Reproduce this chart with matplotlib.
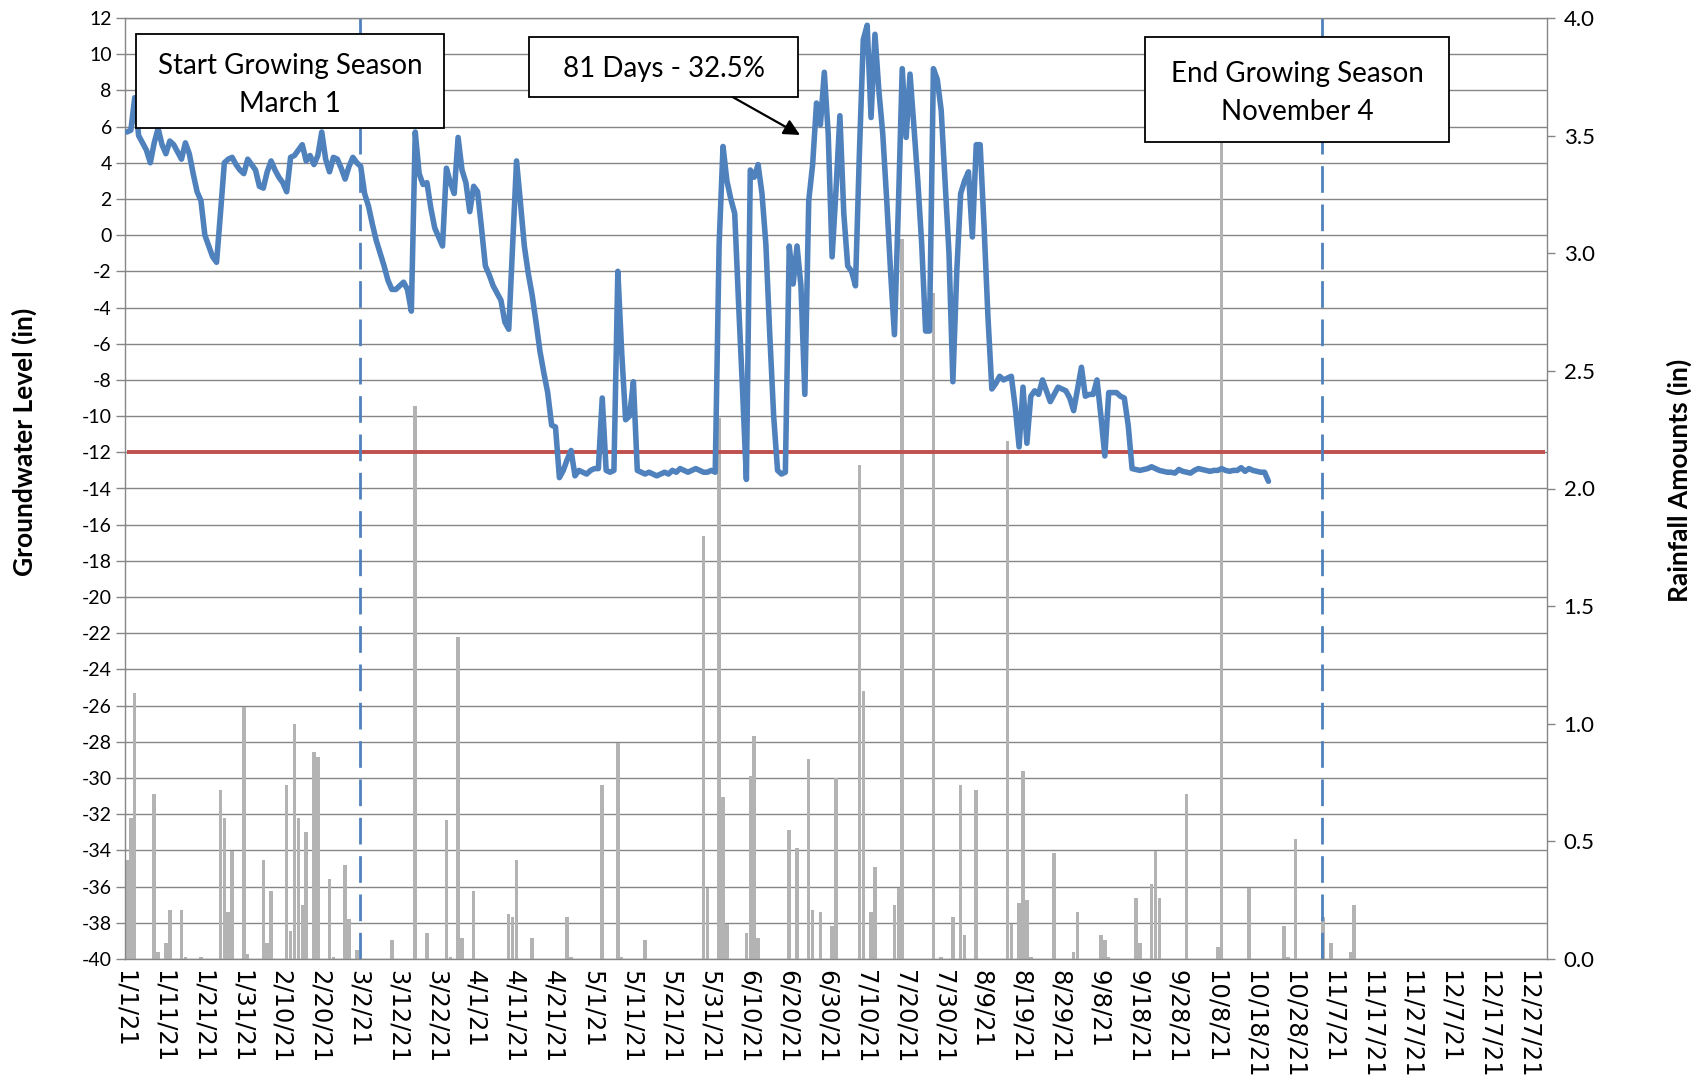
import numpy as np
import matplotlib
matplotlib.use("Agg")
import matplotlib.pyplot as plt
from matplotlib.transforms import blended_transform_factory
from matplotlib.patches import Rectangle
from matplotlib.ticker import FormatStrFormatter

plt.rcParams['font.family'] = ['Lato', 'DejaVu Sans']
plt.rcParams['axes.unicode_minus'] = False

# Daily groundwater level (in), one value per day starting 1/1/21
gw_level = [
    5.7, 5.8, 7.6, 5.5, 5.1, 4.7, 4.0, 5.1, 5.9, 5.0,
    4.5, 5.2, 5.0, 4.6, 4.2, 5.1, 4.5, 3.4, 2.4, 1.9,
    0.0, -0.6, -1.2, -1.5, 1.2, 4.0, 4.2, 4.3, 3.9, 3.6,
    3.4, 4.2, 3.9, 3.6, 2.7, 2.6, 3.5, 4.1, 3.6, 3.2,
    2.9, 2.4, 4.3, 4.4, 4.7, 5.0, 4.1, 4.4, 3.9, 4.4,
    5.7, 4.2, 3.5, 4.3, 4.2, 3.7, 3.1, 3.8, 4.3, 4.0,
    3.8, 2.3, 1.6, 0.6, -0.3, -1.0, -1.7, -2.5, -3.0, -3.0,
    -2.8, -2.6, -3.0, -4.2, 5.7, 3.4, 2.8, 2.9, 1.5, 0.4,
    -0.1, -0.6, 3.7, 2.9, 2.3, 5.4, 3.6, 2.9, 1.3, 2.7,
    2.4, 0.4, -1.7, -2.2, -2.8, -3.2, -3.6, -4.8, -5.2, -0.6,
    4.1, 1.8, -0.6, -2.1, -3.3, -4.8, -6.4, -7.6, -8.7, -10.5,
    -10.6, -13.4, -13.0, -12.4, -11.9, -13.3, -13.0, -13.1, -13.2, -13.0,
    -12.9, -12.9, -9.0, -13.0, -13.1, -13.0, -2.0, -6.5, -10.2, -10.0,
    -8.1, -13.0, -13.1, -13.2, -13.1, -13.2, -13.3, -13.2, -13.1, -13.2,
    -13.0, -13.1, -12.9, -13.0, -13.1, -13.0, -12.9, -13.0, -13.1, -13.1,
    -13.0, -13.1, -0.5, 4.9, 3.0, 2.0, 1.2, -3.8, -8.5, -13.5,
    3.6, 3.2, 3.9, 2.3, -0.5, -5.5, -10.0, -13.0, -13.2, -13.1,
    -0.6, -2.7, -0.6, -2.8, -8.8, 1.9, 3.9, 7.3, 6.1, 9.0,
    5.6, -1.2, 2.5, 6.6, 1.2, -1.7, -2.0, -2.8, 4.5, 10.8,
    11.6, 6.5, 11.1, 8.0, 5.6, 2.0, -2.0, -5.5, 1.5, 9.2,
    5.4, 8.9, 6.0, 3.0, -0.5, -5.3, -5.3, 9.2, 8.6, 6.9,
    3.0, -1.0, -8.1, -2.0, 2.3, 3.0, 3.5, -0.1, 5.0, 5.0,
    0.5, -4.5, -8.5, -8.2, -7.8, -8.0, -7.9, -7.8, -9.5, -11.7,
    -8.4, -11.5, -8.9, -8.6, -8.8, -8.0, -8.6, -9.2, -8.8, -8.4,
    -8.5, -8.6, -9.0, -9.7, -8.5, -7.3, -8.9, -8.8, -8.8, -8.0,
    -10.0, -12.2, -8.7, -8.7, -8.7, -8.9, -9.0, -10.5, -12.9, -12.95,
    -13.0, -12.95, -12.9, -12.8, -12.9, -13.0, -13.05, -13.1, -13.1, -13.15,
    -12.95, -13.05, -13.1, -13.15, -13.0, -12.9, -12.95, -13.0, -13.05, -13.0,
    -13.0, -12.9, -13.0, -13.05, -13.0, -13.0, -12.85, -13.05, -12.9, -13.0,
    -13.05, -13.1, -13.1, -13.6,
]

# Daily rainfall (in): day of year (0 = 1/1/21) and amount
rain_day = [
    0, 1, 2, 7, 8, 10, 11, 14, 15, 19,
    24, 25, 26, 27, 30, 31, 35, 36, 37, 41,
    42, 43, 44, 45, 46, 48, 49, 52, 53, 56,
    57, 59, 68, 74, 77, 82, 83, 85, 86, 89,
    98, 99, 100, 104, 113, 114, 122, 126, 127, 133,
    148, 149, 152, 153, 154, 159, 160, 161, 162, 170,
    172, 175, 176, 178, 181, 182, 188, 189, 191, 192,
    197, 198, 199, 207, 209, 212, 214, 215, 218, 226,
    227, 229, 230, 231, 232, 238, 243, 244, 250, 251,
    252, 259, 260, 263, 264, 265, 272, 280, 281, 288,
    297, 298, 300, 307, 309, 314, 315,
]
rain_in = [
    0.42, 0.60, 1.13, 0.70, 0.03, 0.07, 0.21, 0.21, 0.01, 0.01,
    0.72, 0.60, 0.20, 0.46, 1.07, 0.02, 0.42, 0.07, 0.29, 0.74,
    0.12, 1.00, 0.60, 0.23, 0.54, 0.88, 0.86, 0.34, 0.01, 0.40,
    0.17, 0.04, 0.08, 2.35, 0.11, 0.59, 0.01, 1.37, 0.09, 0.29,
    0.19, 0.18, 0.42, 0.09, 0.18, 0.01, 0.74, 0.92, 0.01, 0.08,
    1.80, 0.30, 2.30, 0.69, 0.15, 0.11, 0.78, 0.95, 0.09, 0.55,
    0.47, 0.85, 0.21, 0.20, 0.14, 0.77, 2.10, 1.14, 0.20, 0.39,
    0.23, 0.30, 3.06, 2.83, 0.01, 0.18, 0.74, 0.10, 0.72, 2.20,
    0.15, 0.24, 0.80, 0.25, 0.01, 0.45, 0.03, 0.20, 0.10, 0.08,
    0.01, 0.26, 0.07, 0.32, 0.46, 0.26, 0.70, 0.05, 3.47, 0.30,
    0.14, 0.01, 0.51, 0.18, 0.07, 0.03, 0.23,
]

x_tick_days = list(range(0, 361, 10))
x_tick_labels = [
    "1/1/21", "1/11/21", "1/21/21", "1/31/21", "2/10/21", "2/20/21",
    "3/2/21", "3/12/21", "3/22/21", "4/1/21", "4/11/21", "4/21/21",
    "5/1/21", "5/11/21", "5/21/21", "5/31/21", "6/10/21", "6/20/21",
    "6/30/21", "7/10/21", "7/20/21", "7/30/21", "8/9/21", "8/19/21",
    "8/29/21", "9/8/21", "9/18/21", "9/28/21", "10/8/21", "10/18/21",
    "10/28/21", "11/7/21", "11/17/21", "11/27/21", "12/7/21", "12/17/21",
    "12/27/21",
]
gw_ticks = list(range(-40, 13, 2))
rain_ticks = [0.0, 0.5, 1.0, 1.5, 2.0, 2.5, 3.0, 3.5, 4.0]

threshold_level = -12
days_in_year = 365
season_marks = [60.4, 307.2]
start_note = "Start Growing Season\nMarch 1"
end_note = "End Growing Season\nNovember 4"
duration_note = "81 Days - 32.5%"

GRID = '#868686'
BLUE = '#4F81BD'
RED = '#C0504D'
BAR = '#B3B3B3'

W, H = 1702, 1086
fig = plt.figure(figsize=(W / 100, H / 100), dpi=100)
fig.patch.set_facecolor('white')
L, R, T, B = 125, 1547, 18, 959
ax = fig.add_axes([L / W, 1 - B / H, (R - L) / W, (B - T) / H])
ax2 = ax.twinx()

ax.set_xlim(0, days_in_year)
ax.set_ylim(gw_ticks[0], gw_ticks[-1])
ax2.set_ylim(rain_ticks[0], rain_ticks[-1])

# rainfall bars live in the main axes so they sit under the groundwater line,
# but take their height from the secondary (rainfall) scale
bar_trans = blended_transform_factory(ax.transData, ax2.transData)
rain_x = np.asarray(rain_day) + 0.5
ax.bar(rain_x, rain_in, width=0.9, color=BAR, linewidth=0, zorder=1,
       transform=bar_trans)

all_days = np.arange(days_in_year) + 0.5
ax.plot(all_days, np.full(days_in_year, threshold_level), color=RED, lw=2.8,
        zorder=2, solid_capstyle='butt')

for t in season_marks:
    ax.axvline(t, color=BLUE, lw=2.0, dashes=(9.6, 4.2), zorder=2.5)

gw_x = np.arange(len(gw_level)) + 0.5
ax.plot(gw_x, gw_level, color=BLUE, lw=4.0, zorder=3,
        solid_joinstyle='round', solid_capstyle='round')

# axes styling
ax.set_axisbelow(True)
ax.set_yticks(gw_ticks)
ax.grid(axis='y', color=GRID, lw=1.0)
ax.grid(axis='x', visible=False)
ax.tick_params(axis='y', direction='out', length=6.5, width=1.0, color=GRID,
               labelsize=14, pad=3)
ax.set_xticks(x_tick_days)
ax.set_xticklabels(x_tick_labels, rotation=270, fontfamily='DejaVu Sans',
                   fontsize=17.5, ha='center', va='top')
ax.tick_params(axis='x', length=0, pad=8)

ax2.set_yticks(rain_ticks)
ax2.yaxis.set_major_formatter(FormatStrFormatter('%.1f'))
ax2.tick_params(axis='y', direction='out', length=6, width=1.0, color=GRID,
                labelsize=16, pad=6)

for a in (ax, ax2):
    for s in a.spines.values():
        s.set_color(GRID)
        s.set_linewidth(1.0)
ax.spines['right'].set_visible(False)
ax2.spines['left'].set_visible(False)
ax2.spines['top'].set_visible(False)
ax2.spines['bottom'].set_visible(False)

fig.text(24 / W, 1 - 442 / H, "Groundwater Level (in)", rotation=90,
         ha='center', va='center', fontsize=19, fontweight='bold')
fig.text(1679 / W, 1 - 480 / H, "Rainfall Amounts (in)", rotation=90,
         ha='center', va='center', fontsize=19, fontweight='bold')


def note_box(x0, y0, x1, y1, text, ty):
    ax.add_patch(Rectangle((x0, y0), x1 - x0, y1 - y0, transform=ax.transAxes,
                           facecolor='white', edgecolor='black', lw=1.3,
                           zorder=6, clip_on=False))
    ax.text((x0 + x1) / 2, ty, text, transform=ax.transAxes, ha='center',
            va='center', fontsize=20, linespacing=1.55, zorder=7)


note_box(0.0077, 0.8831, 0.2243, 0.9830, start_note, 0.9287)
note_box(0.2841, 0.9157, 0.4733, 0.9801, duration_note, 0.9462)
note_box(0.7173, 0.8685, 0.9313, 0.9801, end_note, 0.9204)

ax.annotate('', xy=(0.4747, 0.8757), xytext=(0.4277, 0.9157),
            xycoords='axes fraction', textcoords='axes fraction',
            arrowprops=dict(arrowstyle='-|>', color='black', lw=1.6,
                            mutation_scale=24, shrinkA=0, shrinkB=0),
            zorder=7)

fig.savefig('out.png', dpi=100, facecolor='white')
